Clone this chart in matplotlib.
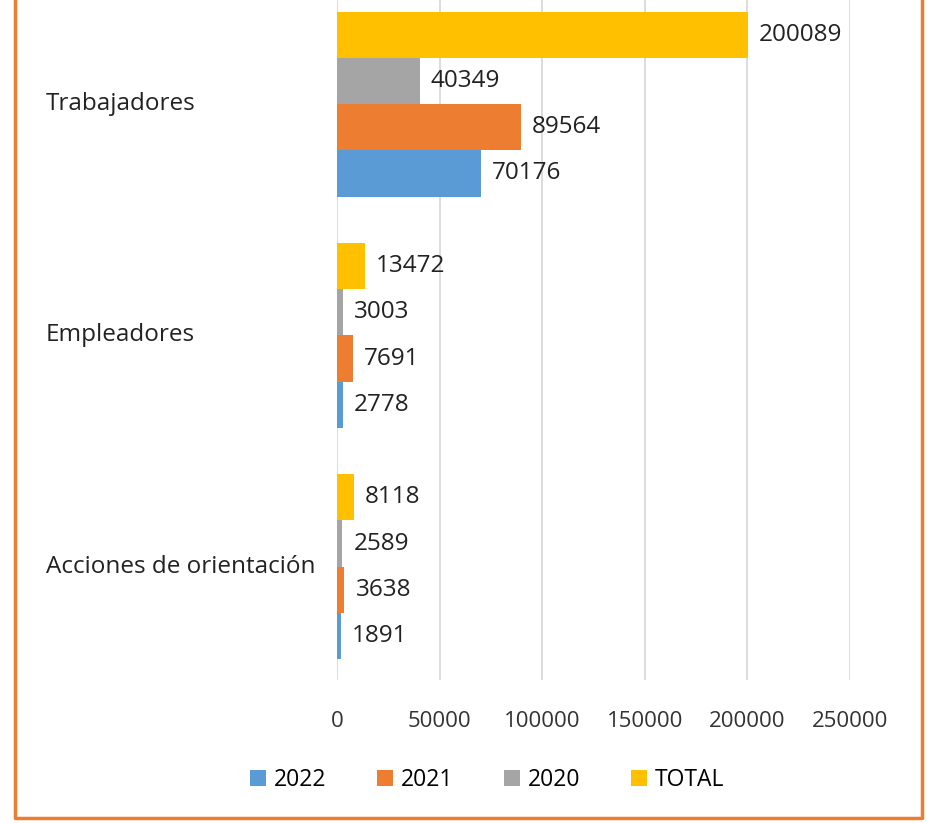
import matplotlib.pyplot as plt
import matplotlib.transforms as mtransforms
import numpy as np

plt.rcParams['font.family'] = ['Open Sans', 'DejaVu Sans']

# data (bottom to top)
categories = ['Acciones de orientación', 'Empleadores', 'Trabajadores']
series = ['2022', '2021', '2020', 'TOTAL']
vals_2022 = [1891, 2778, 70176]
vals_2021 = [3638, 7691, 89564]
vals_2020 = [2589, 3003, 40349]
vals_total = [8118, 13472, 200089]
colors = ['#5B9BD5', '#ED7D31', '#A5A5A5', '#FFC000']

W, H = 928, 823
fig = plt.figure(figsize=(W / 100, H / 100), dpi=100)
ax = fig.add_axes([337 / W, 1 - 680 / H, (850 - 337) / W, 680 / H])

y = np.arange(len(categories))
h = 0.2
offsets = [-0.3, -0.1, 0.1, 0.3]
all_vals = [vals_2022, vals_2021, vals_2020, vals_total]

for name, vals, col, off in zip(series, all_vals, colors, offsets):
    bars = ax.barh(y + off, vals, height=h, color=col, label=name, zorder=3)
    for b, v in zip(bars, vals):
        ax.annotate(str(v), (v, b.get_y() + b.get_height() / 2),
                    xytext=(8, 0), textcoords='offset points',
                    va='center', ha='left', fontsize=17.5, color='#222222')

ax.set_xlim(0, 250000)
ax.set_ylim(-0.49, 2.45)
ax.set_xticks(np.arange(0, 250001, 50000))
ax.tick_params(axis='x', length=0, pad=22, labelsize=16, labelcolor='#333333')
ax.set_yticks([])
ax.grid(axis='x', color='#D9D9D9', linewidth=1.3, zorder=0)
for s in ax.spines.values():
    s.set_visible(False)

# category labels, left aligned
trans = mtransforms.blended_transform_factory(fig.transFigure, ax.transData)
for yy, cat in zip(y, categories):
    ax.text(46 / W, yy, cat, transform=trans, ha='left', va='center',
            fontsize=17.5, color='#222222')

fig.legend(loc='center', bbox_to_anchor=(487 / W, 1 - 780 / H), ncol=4,
           frameon=False, fontsize=16.5, handlelength=0.7, handleheight=0.75,
           handletextpad=0.35, columnspacing=2.2)

# orange frame (cropped at top)
fig.add_artist(plt.Line2D([15 / W, 15 / W, 922 / W, 922 / W],
                          [1, 1 - 818 / H, 1 - 818 / H, 1],
                          transform=fig.transFigure, color='#ED7D31', linewidth=2.5))

fig.savefig('out.png', dpi=100)
